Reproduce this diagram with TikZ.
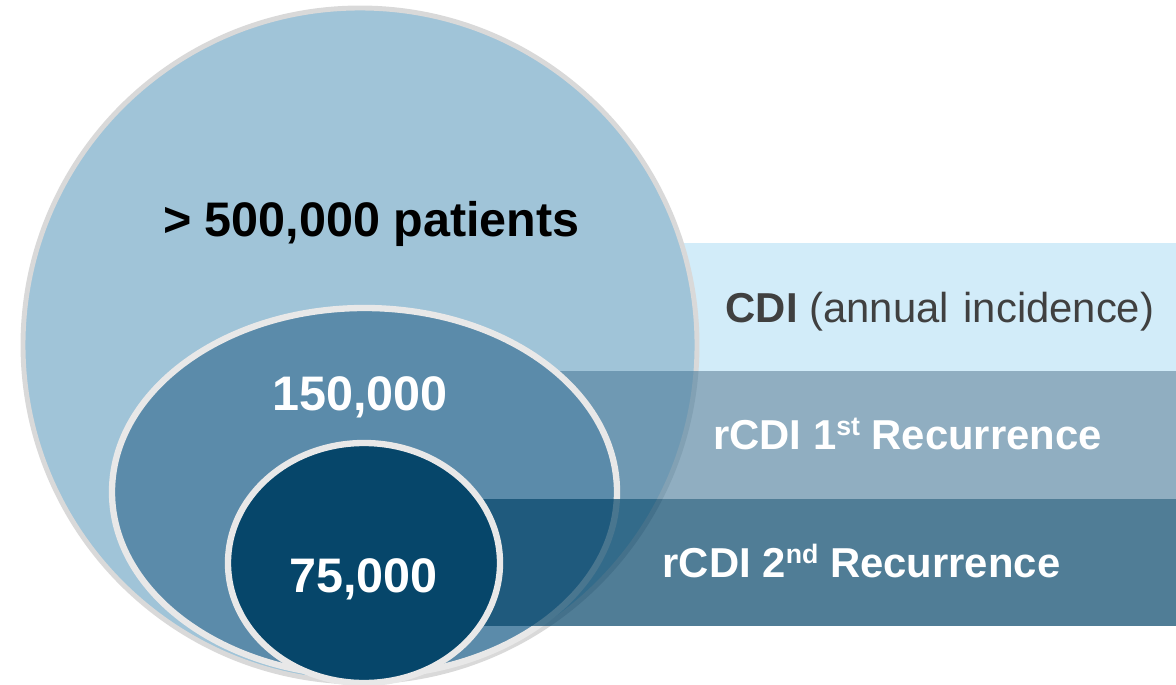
\documentclass[tikz,border=0pt]{standalone}
\usepackage{fontspec}
\setmainfont{Liberation Sans}
\usepackage{tikz}
\usepackage{xcolor}
\usetikzlibrary{positioning}

\definecolor{cdiband}{HTML}{D2ECF9}
\definecolor{bigfill}{HTML}{A0C4D8}
\definecolor{midfill}{HTML}{5B8BAA}
\definecolor{smallfill}{HTML}{06466A}
\definecolor{rimgray}{HTML}{D9D9D9}
\definecolor{rimwhite}{HTML}{E8E8E8}
\definecolor{cditext}{HTML}{404040}

\newcommand{\ordsup}[1]{\raisebox{0.62ex}{\fontsize{7.6}{9}\selectfont #1}}

\begin{document}
\begin{tikzpicture}[
        bignum/.style={font=\fontsize{13.8}{16}\selectfont\bfseries, inner sep=0pt, anchor=base},
        bandtext/.style={font=\fontsize{11.9}{14}\selectfont, inner sep=0pt, anchor=base}
    ]
        \useasboundingbox (0,0) rectangle (11.76,6.84);

        % CDI band (behind the big circle)
        \fill[cdiband] (6.50,3.13) rectangle (11.76,4.41);

        % Big circle
        \draw[rimgray, line width=1.4pt, fill=bigfill] (3.60,3.39) circle (3.37);

        % 1st recurrence band
        \fill[midfill!95!black, opacity=0.66] (5.53,1.85) rectangle (11.76,3.13);

        % Middle ellipse
        \draw[rimwhite, line width=1.8pt, fill=midfill] (3.645,1.92) ellipse [x radius=2.525, y radius=1.84];

        % 2nd recurrence band
        \fill[smallfill, opacity=0.7] (4.83,0.58) rectangle (11.76,1.85);

        % Small ellipse
        \draw[rimwhite, line width=1.8pt, fill=smallfill] (3.64,1.21) ellipse [x radius=1.36, y radius=1.20];

        % Numbers
        \node[bignum, black] (total) at (3.715,4.47) {> 500,000 patients};
        \node[bignum, white] (first) at (3.60,2.74) {150,000};
        \node[bignum, white] (second) at (3.635,0.92) {75,000};

        % Band labels
        \node[bandtext, cditext] (cdi) at (9.40,3.62) {\textbf{CDI} (annual\hspace{0.35em}incidence)};
        \node[bandtext, white, font=\fontsize{11.9}{14}\selectfont\bfseries] (rec1) at (9.075,2.35) {rCDI 1\ordsup{st} Recurrence};
        \node[bandtext, white, font=\fontsize{11.9}{14}\selectfont\bfseries] (rec2) at (8.615,1.07) {rCDI 2\ordsup{nd} Recurrence};

    \end{tikzpicture}
\end{document}
